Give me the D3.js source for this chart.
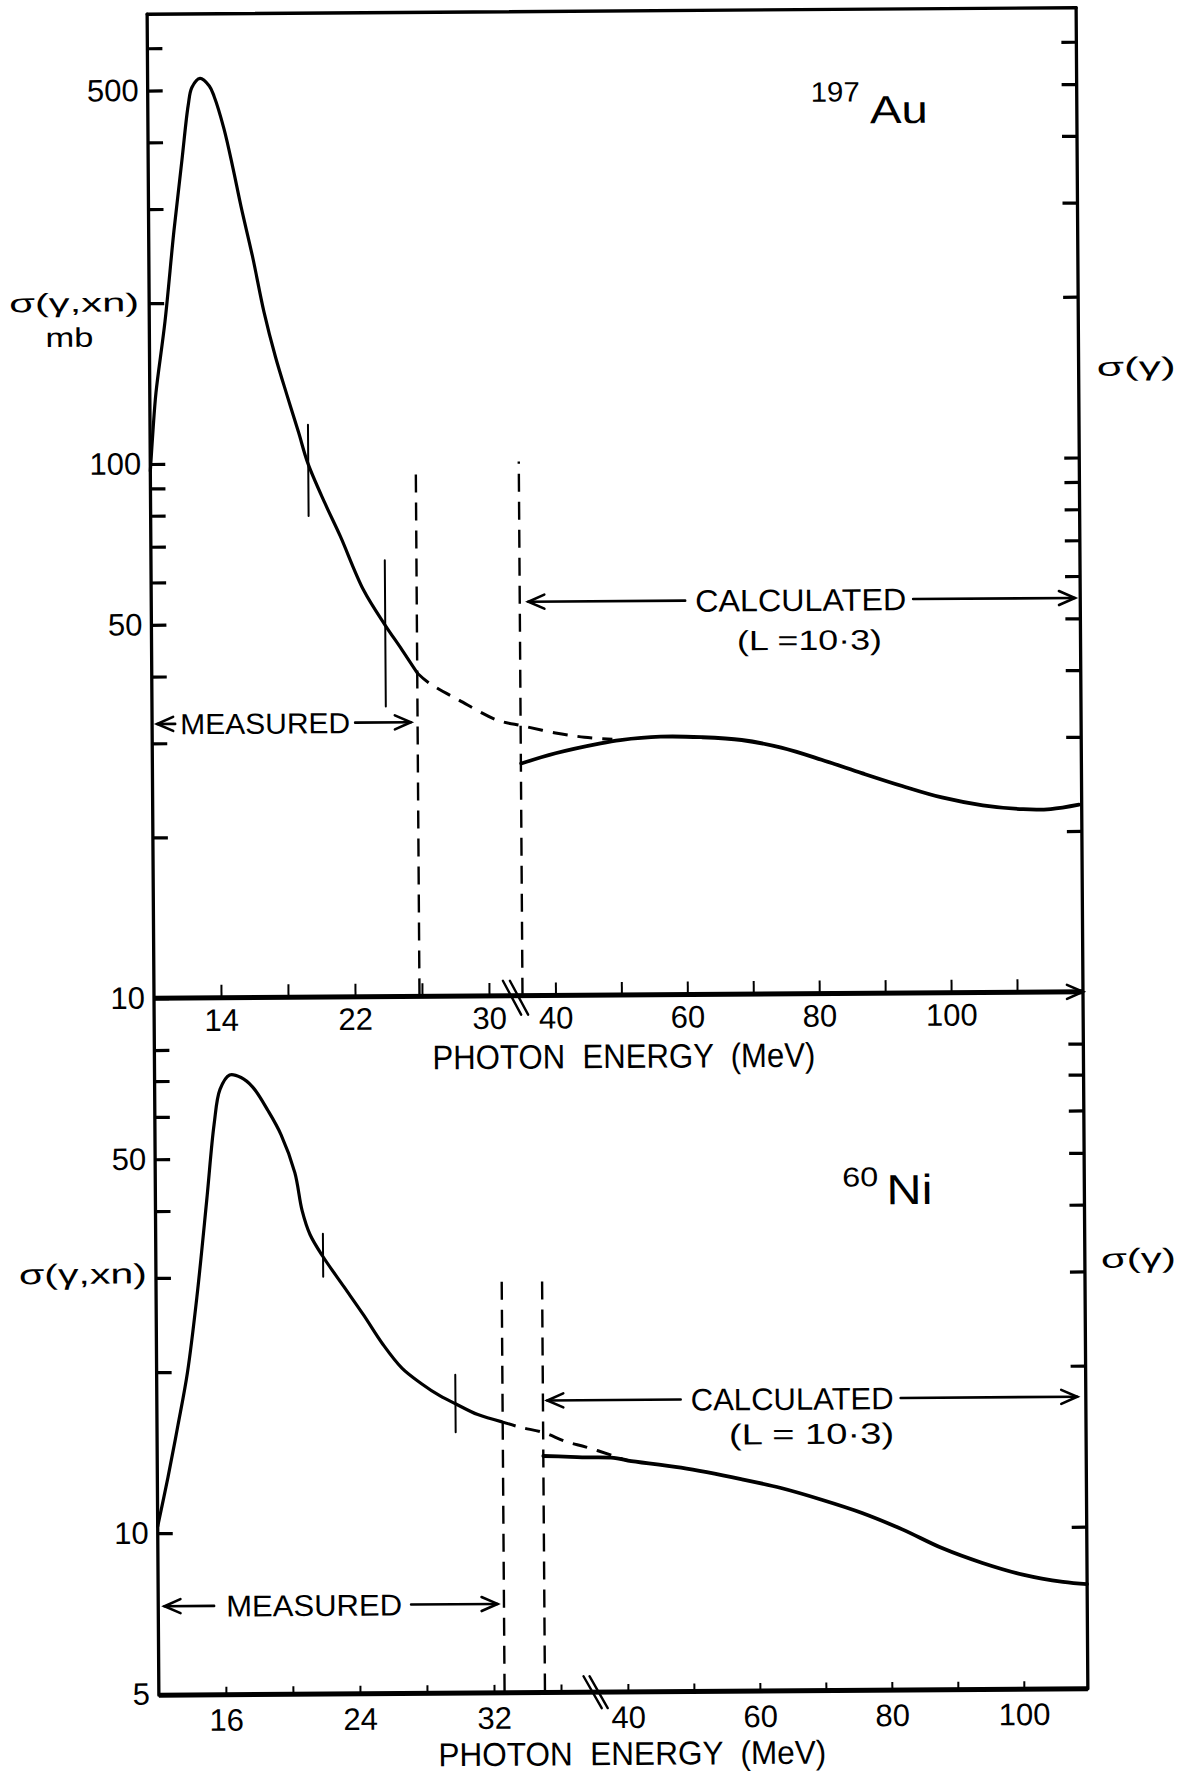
<!DOCTYPE html>
<html>
<head>
<meta charset="utf-8">
<script src="https://cdn.jsdelivr.net/npm/d3@7"></script>
<style>
  html, body { margin: 0; padding: 0; background: #fff; }
  svg { display: block; }
  text { font-family: "Liberation Sans", Arial, sans-serif; fill: #000; white-space: pre; }
</style>
</head>
<body>
<svg id="chart" width="1191" height="1776"></svg>
<script>
// ---------- 197Au : photoneutron cross section (mb) vs photon energy (MeV) ----------
const auMeasuredE     = [10, 10.18, 10.37, 10.94, 11.51, 12.02, 12.41, 12.64, 13.13, 13.68, 13.96, 14.54, 15.06, 15.53, 16.2, 16.85, 17.52, 18.19, 18.87, 19.4, 20.41, 21.3, 22.68, 23.95, 24.94, 25.85];
const auMeasuredSigma = [97, 116, 136, 185, 273, 371, 468, 506, 526, 509, 487, 423, 357, 302, 243, 192, 158, 134, 114, 100, 84, 73, 57.7, 49.6, 44.6, 40.3];
const auExtrapE       = [25.85, 26.54, 28.33, 30.62, 31.88, 35.2, 40.29, 44.67, 48.9];
const auExtrapSigma   = [40.3, 38.6, 35.8, 32.8, 32.1, 32.0, 31.0, 30.4, 30.1];
const auCalcE         = [35.05, 40.26, 47.1, 50.1, 56.2, 62.4, 68.5, 74.5, 80.6, 86.8, 92.8, 98.8, 105.0, 111.1, 115.3, 119.6];
const auCalcSigma     = [27.2, 28.4, 29.6, 30.0, 30.4, 30.3, 29.9, 28.9, 27.4, 25.8, 24.4, 23.2, 22.4, 22.0, 22.0, 22.4];
const auErrE          = [19.43, 23.96];
const auErrLow        = [79.5, 34.9];
const auErrHigh       = [117.8, 65.6];
const auBoundE        = [25.85, 35];
const auBoundTop      = [97, 100];
const auYTicks  = [10, 20, 30, 40, 50, 60, 70, 80, 90, 100, 200, 300, 400, 500, 600];
const auYLabels = [10, 50, 100, 500];
const auXTicks  = [14, 18, 22, 26, 30, 40, 50, 60, 70, 80, 90, 100, 110];
const auXLabels = [14, 22, 30, 40, 60, 80, 100];

// ---------- 60Ni ----------
const niMeasuredE     = [12, 12.63, 13.25, 13.84, 14.44, 15.06, 15.53, 15.9, 16.48, 17.16, 17.84, 18.76, 19.52, 20.33, 20.75, 21.21, 21.98, 23.22, 24.38, 25.51, 26.64, 27.78, 28.91, 29.82, 31.15, 32.54];
const niMeasuredSigma = [10.3, 12.7, 15.9, 19.95, 27.7, 41.8, 57.9, 67.4, 71.7, 70.9, 68.1, 61.4, 55.4, 47.0, 39.9, 36.0, 32.7, 28.7, 25.4, 22.4, 20.2, 18.9, 17.9, 17.3, 16.5, 16.0];
const niExtrapE       = [32.54, 33.7, 35.04, 36.41, 37.6, 38.1, 39.5, 40.3];
const niExtrapSigma   = [16.0, 15.6, 15.25, 14.65, 14.3, 13.75, 13.55, 13.48];
const niCalcE         = [35.04, 36.65, 37.6, 38.1, 40.26, 48.29, 57.36, 63.41, 69.56, 75.67, 81.74, 87.74, 93.86, 99.95, 106.04, 109.68];
const niCalcSigma     = [13.78, 13.72, 13.68, 13.64, 13.48, 13.05, 12.4, 11.92, 11.32, 10.68, 9.94, 9.16, 8.58, 8.15, 7.89, 7.81];
const niErrE          = [21.98, 29.82];
const niErrLow        = [30.0, 15.3];
const niErrHigh       = [36.1, 19.6];
const niBoundE        = [32.63, 35.04];
const niBoundTop      = [29.4, 29.4];
const niYTicks  = [5, 10, 20, 30, 40, 50, 60, 70, 80];
const niYLabels = [5, 10, 50];
const niXTicks  = [16, 20, 24, 28, 32, 36, 40, 50, 60, 70, 80, 90, 100];
const niXLabels = [16, 24, 32, 40, 60, 80, 100];

// range annotations, in data units (energy span, cross-section level, label centre)
const auMeasuredNote   = { from: 10.3, to: 25.45, at: 32.6, mid: 16.75, text: "MEASURED" };
const auCalculatedNote = { from: 36.3, to: 119.2, at: 54.6, mid: 77.6, text: "CALCULATED" };
const auLNote          = { e: 78.9, at: 44.0, text: "(L =10·3)" };
const niMeasuredNote   = { from: 12.37, to: 32.25, at: 7.3, mid: 21.3, text: "MEASURED" };
const niCalculatedNote = { from: 35.3, to: 108.4, at: 17.5, mid: 65.2, text: "CALCULATED" };
const niLNote          = { e: 68.1, at: 14.4, text: "(L = 10·3)" };

// ---------- layout ----------
const frame = { left: 153, right: 1082, top: 11, mid: 995, bottom: 1692 };

// broken energy axes: low-energy part, gap, high-energy part
const xAu = d3.scaleLinear().domain([10, 32, 35, 120]).range([frame.left, 521.5, 521.5, frame.right]);
const yAu = d3.scaleLog().domain([10, 600]).range([frame.mid, 45]);
const xNi = d3.scaleLinear().domain([12, 37.6, 38.1, 110]).range([frame.left, 582, 609.5, 1084]);
const yNi = d3.scaleLog().domain([5, 100]).range([frame.bottom - 1, frame.mid]);

const svg = d3.select("#chart");
svg.append("rect").attr("width", 1191).attr("height", 1776).attr("fill", "#fff");
const root = svg.append("g").attr("transform", "rotate(-0.4 617 852)");

const ink = "#000";
const zip = (a, b) => a.map((v, i) => [v, b[i]]);

function line(g, x1, y1, x2, y2, w) {
  return g.append("line").attr("x1", x1).attr("y1", y1).attr("x2", x2).attr("y2", y2)
    .attr("stroke", ink).attr("stroke-width", w).attr("stroke-linecap", "round");
}

function label(g, str, x, y, size, anchor, width) {
  const t = g.append("text").attr("x", x).attr("y", y).attr("font-size", size)
    .attr("text-anchor", anchor || "start").text(str);
  if (width) t.attr("textLength", width).attr("lengthAdjust", "spacingAndGlyphs");
  return t;
}

function curve(g, xs, ys, pts, w, dash) {
  const gen = d3.line().x(d => xs(d[0])).y(d => ys(d[1])).curve(d3.curveCatmullRom.alpha(0.5));
  const p = g.append("path").attr("d", gen(pts)).attr("fill", "none").attr("stroke", ink)
    .attr("stroke-width", w).attr("stroke-linejoin", "round").attr("stroke-linecap", "round");
  if (dash) p.attr("stroke-dasharray", dash).attr("stroke-linecap", "butt");
  return p;
}

function arrowHead(g, x, y, dir) {
  g.append("path").attr("d", `M${x - dir * 16},${y - 7}L${x},${y}L${x - dir * 16},${y + 7}`)
    .attr("fill", "none").attr("stroke", ink).attr("stroke-width", 2.6)
    .attr("stroke-linejoin", "miter").attr("stroke-linecap", "round");
}

function spanNote(g, xs, ys, n, size, width, gapL, gapR) {
  const x0 = xs(n.from), x1 = xs(n.to), y = ys(n.at), cx = xs(n.mid);
  line(g, x0, y, cx - width / 2 - gapL, y, 2.6);
  line(g, cx + width / 2 + gapR, y, x1, y, 2.6);
  arrowHead(g, x0, y, -1);
  arrowHead(g, x1, y, 1);
  label(g, n.text, cx, y + 0.716 * size / 2, size, "middle", width);
}

function breakMark(g, cx, cy, hx, hy, sep) {
  [-sep / 2, sep / 2].forEach(o => line(g, cx + o - hx, cy - hy, cx + o + hx, cy + hy, 2.4));
}

function panel(cfg) {
  const g = root.append("g");
  const { xs, ys, xAxisY, xTickLen, xPad } = cfg;

  // left y ticks with labels
  g.append("g").attr("transform", `translate(${frame.left},0)`)
    .call(d3.axisLeft(ys).tickValues(cfg.yTicks).tickSizeInner(-15).tickSizeOuter(0).tickPadding(9)
      .tickFormat(d => cfg.yLabels.includes(d) ? String(d) : ""))
    .call(a => a.select(".domain").remove())
    .call(a => a.selectAll(".tick line").attr("stroke", ink).attr("stroke-width", 3.2))
    .call(a => a.selectAll(".tick text").attr("fill", ink).attr("font-size", 31)
      .attr("font-family", '"Liberation Sans", Arial, sans-serif'));

  // right y ticks
  g.append("g").attr("transform", `translate(${frame.right},0)`)
    .call(d3.axisRight(ys).tickValues(cfg.yTicks.filter(v => v !== ys.domain()[0])).tickSizeInner(-15).tickSizeOuter(0).tickFormat(""))
    .call(a => a.select(".domain").remove())
    .call(a => a.selectAll(".tick line").attr("stroke", ink).attr("stroke-width", 3.2));

  // energy ticks
  g.append("g").attr("transform", `translate(0,${xAxisY})`)
    .call(d3.axisBottom(xs).tickValues(cfg.xTicks).tickSizeInner(-xTickLen).tickSizeOuter(0).tickPadding(xPad)
      .tickFormat(d => cfg.xLabels.includes(d) ? String(d) : ""))
    .call(a => a.select(".domain").remove())
    .call(a => a.selectAll(".tick line").attr("stroke", ink).attr("stroke-width", 2))
    .call(a => a.selectAll(".tick text").attr("fill", ink).attr("font-size", 31)
      .attr("font-family", '"Liberation Sans", Arial, sans-serif'));

  // boundaries between measured and calculated regions
  cfg.boundE.forEach((e, i) => {
    line(g, xs(e), ys(ys.domain()[0]), xs(e), ys(cfg.boundTop[i]), 2.4)
      .attr("stroke-dasharray", "18,10").attr("stroke-linecap", "butt");
  });

  // error bars
  cfg.errE.forEach((e, i) => line(g, xs(e), ys(cfg.errLow[i]), xs(e), ys(cfg.errHigh[i]), 2));

  curve(g, xs, ys, zip(cfg.measE, cfg.measS), 3.2);
  curve(g, xs, ys, zip(cfg.extE, cfg.extS), 3, "15,10");
  curve(g, xs, ys, zip(cfg.calcE, cfg.calcS), 3.8);
  return g;
}

// ---------- frame ----------
line(root, frame.left, frame.top, frame.left, frame.bottom, 3.3);
line(root, frame.right, frame.top, frame.right, frame.bottom, 3.3);
line(root, frame.left, frame.top, frame.right, frame.top, 3.3);
line(root, frame.left, frame.mid, frame.right, frame.mid, 5).attr("stroke-linecap", "butt");
line(root, frame.left, frame.bottom, frame.right, frame.bottom, 5).attr("stroke-linecap", "butt");
arrowHead(root, frame.right, frame.mid, 1);

// ---------- upper panel: 197Au ----------
const au = panel({
  xs: xAu, ys: yAu, xAxisY: frame.mid, xTickLen: 13, xPad: 11,
  yTicks: auYTicks, yLabels: auYLabels, xTicks: auXTicks, xLabels: auXLabels,
  boundE: auBoundE, boundTop: auBoundTop,
  errE: auErrE, errLow: auErrLow, errHigh: auErrHigh,
  measE: auMeasuredE, measS: auMeasuredSigma, extE: auExtrapE, extS: auExtrapSigma,
  calcE: auCalcE, calcS: auCalcSigma
});
breakMark(au, xAu(32) - 7, frame.mid + 2, 9, 17, 7);
spanNote(au, xAu, yAu, auMeasuredNote, 29, 170, 5, 5);
spanNote(au, xAu, yAu, auCalculatedNote, 31, 211, 10, 7);
label(au, auLNote.text, xAu(auLNote.e), yAu(auLNote.at), 28, "middle", 145);
label(au, "σ(γ,xn)", 13, 308, 26, "start", 130);
label(au, "mb", 49, 343, 27, "start", 48);
label(au, "σ(γ)", 1100, 379, 26, "start", 79);
label(au, "197", 816, 103, 28, "start", 49);
label(au, "Au", 875, 125, 39, "start", 58);
label(au, "PHOTON  ENERGY  (MeV)", 431, 1068, 34, "start", 383);

// ---------- lower panel: 60Ni ----------
const ni = panel({
  xs: xNi, ys: yNi, xAxisY: frame.bottom, xTickLen: 8, xPad: 14,
  yTicks: niYTicks, yLabels: niYLabels, xTicks: niXTicks, xLabels: niXLabels,
  boundE: niBoundE, boundTop: niBoundTop,
  errE: niErrE, errLow: niErrLow, errHigh: niErrHigh,
  measE: niMeasuredE, measS: niMeasuredSigma, extE: niExtrapE, extS: niExtrapSigma,
  calcE: niCalcE, calcS: niCalcSigma
});
breakMark(ni, (xNi(37.6) + xNi(38.1)) / 2 - 6, frame.bottom, 9, 16, 6);
spanNote(ni, xNi, yNi, niMeasuredNote, 30, 176, 12, 9);
spanNote(ni, xNi, yNi, niCalculatedNote, 31, 203, 10, 7);
label(ni, niLNote.text, xNi(niLNote.e), yNi(niLNote.at), 29, "middle", 165);
label(ni, "σ(γ,xn)", 16, 1280, 28, "start", 128);
label(ni, "σ(γ)", 1098, 1271, 27, "start", 75);
label(ni, "60", 840, 1188, 27, "start", 36);
label(ni, "Ni", 884, 1206, 42, "start", 46);
label(ni, "PHOTON  ENERGY  (MeV)", 432, 1765, 33, "start", 388);
</script>
</body>
</html>
